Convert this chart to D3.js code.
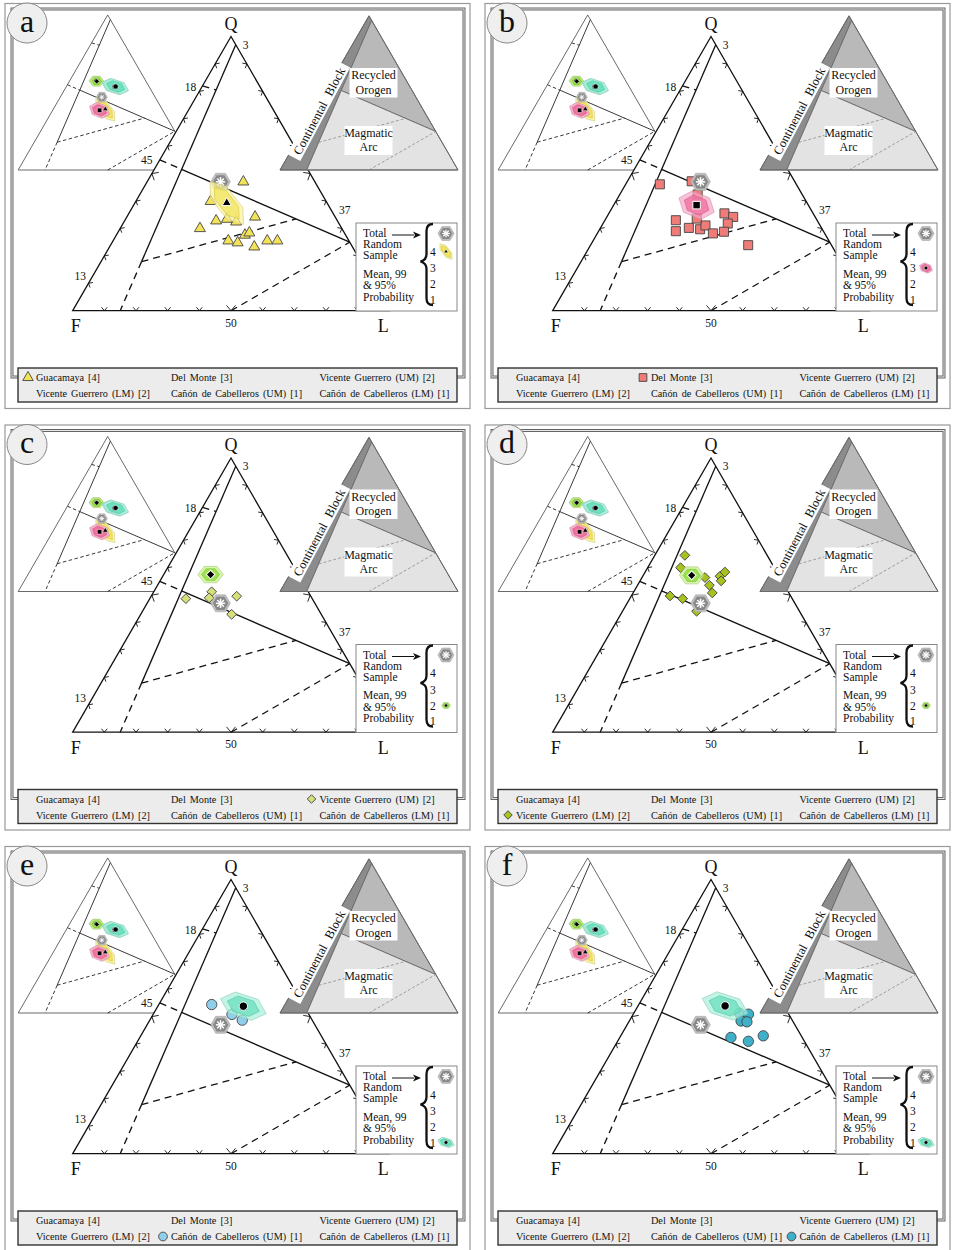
<!DOCTYPE html>
<html><head><meta charset="utf-8">
<script src="https://cdn.jsdelivr.net/npm/d3@7"></script>
<style>
body{margin:0;background:#fff}
svg{display:block}
text{font-family:"Liberation Serif",Tinos,"Times New Roman",serif;fill:#111}
</style>
</head><body>
<script>
// ---------------- DATA ----------------
const panelLetters = ["a","b","c","d","e","f"];
const groupNames = ["Guacamaya [4]","Del Monte [3]","Vicente Guerrero (UM) [2]","Vicente Guerrero (LM) [2]","Cañón de Cabelleros (UM) [1]","Cañón de Cabelleros (LM) [1]"];
const groupCounts = [4,3,2,2,1,1];
const groupSymbols = ["triangle","square","diamond","diamond","circle","circle"];
const pointFill = ["#f3e35a","#f07c78","#d6e07a","#a9c21e","#90cfea","#3fb0c8"];
const region99Fill = ["#faf39a","#f6a8c8","#c6f08e","#c6f08e","#a8f0da","#a8f0da"];
const region95Fill = ["#f1e35a","#ef6a9a","#86dc2e","#86dc2e","#66dfbd","#66dfbd"];

// point compositions as [Q, L] in percent (F = 100 - Q - L)
const guacamaya = [[47.0,30.4],[39.9,23.6],[32.8,28.9],[30.0,25.2],[34.2,40.5],[25.5,36.4],[24.8,39.7],[27.6,40.6],[28.4,41.6],[23.3,45.7],[25.5,48.7],[25.5,51.9],[32.4,35.4],[33.4,32.0]];
const delMonte = [[46.1,10.8],[47.2,20.3],[42.4,24.6],[33.0,22.4],[29.0,24.4],[30.2,27.9],[29.7,31.7],[31.1,32.7],[28.2,36.5],[35.5,36.5],[34.2,39.9],[31.8,39.4],[28.8,39.7],[23.9,49.8],[33.6,28.7]];
const vicenteUM = [[48.7,11.4],[51.2,18.3],[49.0,18.6],[49.6,27.0],[43.0,28.7]];
const vicenteLM = [[64.5,9.5],[60.0,10.4],[56.4,19.9],[53.6,22.7],[50.8,25.0],[56.9,24.4],[58.4,25.2],[55.2,25.6],[49.7,12.2],[48.7,16.7],[44.1,23.4]];
const cabellerosUM = [[54.4,16.7],[50.8,24.9],[48.7,29.2]];
const cabellerosLM = [[51.3,33.3],[50.9,36.4],[48.4,35.3],[48.1,37.3],[42.4,35.1],[41.0,41.3],[43.0,45.0]];
const groupPoints = [guacamaya, delMonte, vicenteUM, vicenteLM, cabellerosUM, cabellerosLM];

const groupMeans = [[39.3,29.0],[38.5,26.2],[57.5,14.8],[57.2,15.3],[53.8,27.0],[53.9,27.5]];
// confidence regions: [half-length, half-width (percent units), tilt deg]
const regions99 = [[8.6,3.6,52],[6.0,4.2,22],[4.0,3.0,0],[3.9,3.1,0],[7.6,4.0,18],[7.6,4.0,18]];
const regions95 = [[6.4,2.6,52],[4.2,3.0,22],[2.8,2.1,0],[2.7,2.2,0],[5.3,2.9,18],[5.3,2.9,18]];
const totalMean = [47.0,23.2];
const totalRegion = [3.1,2.4];

const tickLabels = ["3","18","45","13","37","50"];
const tickLabelAt = [[97,3],[82,0],[55,0],[13,0],[37,63],[0,50]];
const tickLabelShift = [[10,0],[-12,1],[-13,0],[-13,1],[14,1],[0,12]];
const vertexLabels = ["Q","F","L"];

// field boundaries [Q,L] -> [Q,L], dashed flag
const fieldLines = [
  [[97,3],[17.9,12.8],false],
  [[17.9,12.8],[0,15],true],
  [[55,0],[51.55,8.62],true],
  [[51.55,8.62],[25,75],false],
  [[17.9,12.8],[33.5,53.8],true],
  [[0,50],[25,75],true],
  [[82,0],[80.5,5.0],true]
];
const provenanceNames = ["Continental Block","Recycled Orogen","Magmatic Arc"];
const provenancePolys = [
  [[100,0],[0,0],[0,15],[97,3]],
  [[97,3],[51.55,8.62],[25,75]],
  [[51.55,8.62],[0,15],[0,100],[25,75]]
];
const provenanceFill = ["#8c8c8c","#b9b9b9","#e3e3e3"];
const boxText = ["Total","Random","Sample","Mean, 99","& 95%","Probability"];
const boxNumbers = ["4","3","2","1"];

// ---------------- DRAW ----------------
const W=954,H=1250;
const svg=d3.select("body").append("svg").attr("width",W).attr("height",H)
  .attr("font-family","'Liberation Serif', Tinos, 'Times New Roman', serif");
const panelOrigins=[[0,0],[480,0],[0,421.5],[480,421.5],[0,843],[480,843]];

function ternary(ox,oy,side){
  const sx=d3.scaleLinear().domain([0,100]).range([ox,ox+side]);
  const sy=d3.scaleLinear().domain([0,100]).range([oy,oy-side*Math.sqrt(3)/2]);
  const f=(Q,L)=>[sx(L+Q/2),sy(Q)];
  f.k=side/100;
  return f;
}
const symType={triangle:d3.symbolTriangle,square:d3.symbolSquare,diamond:d3.symbolSquare,circle:d3.symbolCircle};
function marker(g,type,x,y,size,fill,stroke,sw){
  g.append("path").attr("d",d3.symbol(symType[type],size)())
   .attr("transform",`translate(${x},${y})`+(type==="diamond"?" rotate(45)":""))
   .attr("fill",fill).attr("stroke",stroke).attr("stroke-width",sw);
}
function hexPts(cx,cy,a,b,ang,k){
  const r=ang*Math.PI/180,c=Math.cos(r),s=Math.sin(r);
  return d3.range(6).map(i=>{const t=i*Math.PI/3;const u=a*k*Math.cos(t),v=b*k*Math.sin(t);return [cx+u*c-v*s,cy+u*s+v*c];});
}
const poly=d3.line();
function polygon(g,pts,fill,stroke,sw,op){
  return g.append("path").attr("d",poly(pts)+"Z").attr("fill",fill).attr("stroke",stroke||"none").attr("stroke-width",sw||0).attr("fill-opacity",op==null?1:op);
}
function drawTotal(g,cx,cy,k){
  polygon(g,hexPts(cx,cy,totalRegion[0],totalRegion[0],0,k),"#bdbdbd","#a8a8a8",0.6);
  polygon(g,hexPts(cx,cy,totalRegion[1],totalRegion[1],0,k),"#878787","none",0);
  const r=totalRegion[1]*k*0.62, sw=Math.max(0.7,1.5*k/3.166);
  [0,45,90,135].forEach(d=>{
    const a=d*Math.PI/180;
    g.append("line").attr("x1",cx-r*Math.cos(a)).attr("y1",cy-r*Math.sin(a))
     .attr("x2",cx+r*Math.cos(a)).attr("y2",cy+r*Math.sin(a))
     .attr("stroke","#fff").attr("stroke-width",sw);
  });
}
function drawGroupRegion(g,gi,cx,cy,k,op){
  const r9=regions99[gi],r5=regions95[gi];
  polygon(g,hexPts(cx,cy,r9[0],r9[1],r9[2],k),region99Fill[gi],d3.color(region99Fill[gi]).darker(0.5),0.6,op);
  polygon(g,hexPts(cx,cy,r5[0],r5[1],r5[2],k),region95Fill[gi],d3.color(region95Fill[gi]).darker(0.4),0.6,op);
}
const meanSize={triangle:36,square:56,diamond:38,circle:56};
function drawMean(g,gi,x,y,scale){
  marker(g,groupSymbols[gi],x,y,meanSize[groupSymbols[gi]]*scale*scale,"#000","#fff",scale>0.7?1:0.5);
}
const pointSize={triangle:52,square:82,diamond:48,circle:84};

function drawPanel(g,pi){
  // frames
  g.append("rect").attr("x",5).attr("y",3.5).attr("width",465).attr("height",405).attr("fill","none").attr("stroke","#999").attr("stroke-width",1.2);
  g.append("rect").attr("x",12).attr("y",9).attr("width",452).attr("height",368).attr("fill","none").attr("stroke","#666").attr("stroke-width",3);
  g.append("rect").attr("x",12).attr("y",9).attr("width",452).attr("height",368).attr("fill","none").attr("stroke","#e6e6e6").attr("stroke-width",1);

  // inset triangle
  const ti=ternary(18.2,170,179);
  polygon(g,[ti(100,0),ti(0,0),ti(0,100)],"#fff","#444",0.8);
  fieldLines.forEach(l=>{
    const p1=ti(l[0][0],l[0][1]),p2=ti(l[1][0],l[1][1]);
    g.append("line").attr("x1",p1[0]).attr("y1",p1[1]).attr("x2",p2[0]).attr("y2",p2[1])
     .attr("stroke","#222").attr("stroke-width",0.9).attr("stroke-dasharray",l[2]?"3.5,2.5":null);
  });
  [0,1].forEach(gi=>{const m=ti(...groupMeans[gi]);drawGroupRegion(g,gi,m[0],m[1],ti.k,0.9);});
  {const m=ti(...totalMean);drawTotal(g,m[0],m[1],ti.k);}
  [2,3,4,5].forEach(gi=>{const m=ti(...groupMeans[gi]);drawGroupRegion(g,gi,m[0],m[1],ti.k,0.9);});
  groupMeans.forEach((mm,gi)=>{const m=ti(...mm);drawMean(g,gi,m[0],m[1],0.6);});

  // main triangle
  const tm=ternary(72.7,310.7,316.6);
  polygon(g,[tm(100,0),tm(0,0),tm(0,100)],"#fff","#111",1.3);
  fieldLines.forEach(l=>{
    const p1=tm(l[0][0],l[0][1]),p2=tm(l[1][0],l[1][1]);
    g.append("line").attr("x1",p1[0]).attr("y1",p1[1]).attr("x2",p2[0]).attr("y2",p2[1])
     .attr("stroke","#111").attr("stroke-width",1.3).attr("stroke-dasharray",l[2]?"7,5":null);
  });
  // edge ticks (every 10 %)
  const edges=[
    {f:v=>tm(v,0),t:[0.5,-0.866],n:[0.866,0.5]},
    {f:v=>tm(0,v),t:[1,0],n:[0,-1]},
    {f:v=>tm(v,100-v),t:[0.5,0.866],n:[-0.866,0.5]}
  ];
  edges.forEach(e=>{
    d3.range(10,100,10).forEach(v=>{
      const p=e.f(v),len=v===50?7:4.5,ca=Math.cos(0.7),sa=Math.sin(0.7);
      const a1=[p[0]+len*(e.n[0]*ca+e.t[0]*sa),p[1]+len*(e.n[1]*ca+e.t[1]*sa)];
      const a2=[p[0]+len*(e.n[0]*ca-e.t[0]*sa),p[1]+len*(e.n[1]*ca-e.t[1]*sa)];
      g.append("path").attr("d",d3.line()([a1,p,a2])).attr("fill","none").attr("stroke","#111").attr("stroke-width",0.9);
    });
  });
  tickLabels.forEach((t,i)=>{
    const p=tm(...tickLabelAt[i]);
    g.append("text").attr("x",p[0]+tickLabelShift[i][0]).attr("y",p[1]+tickLabelShift[i][1]).attr("dy","0.35em")
     .attr("text-anchor","middle").attr("font-size",11.5).text(t);
  });
  const vPos=[tm(100,0),tm(0,0),tm(0,100)],vOff=[[0,-13],[3,15],[-6,15]];
  vertexLabels.forEach((t,i)=>{
    g.append("text").attr("x",vPos[i][0]+vOff[i][0]).attr("y",vPos[i][1]+vOff[i][1]).attr("dy","0.35em")
     .attr("text-anchor","middle").attr("font-size",18).text(t);
  });

  // provenance triangle
  const tp=ternary(280,170,178);
  provenancePolys.forEach((pp,i)=>polygon(g,pp.map(q=>tp(...q)),provenanceFill[i],"#6a6a6a",0.9));
  [fieldLines[4],fieldLines[5]].forEach(l=>{
    const p1=tp(l[0][0],l[0][1]),p2=tp(l[1][0],l[1][1]);
    g.append("line").attr("x1",p1[0]).attr("y1",p1[1]).attr("x2",p2[0]).attr("y2",p2[1])
     .attr("stroke","#8a8a8a").attr("stroke-width",0.8).attr("stroke-dasharray","3,2");
  });
  polygon(g,[tp(100,0),tp(0,0),tp(0,100)],"none","#6a6a6a",1);
  const lab=(cx,lines,ys,bw)=>{
    g.append("rect").attr("x",cx-bw/2).attr("y",ys[0]-11).attr("width",bw).attr("height",ys[1]-ys[0]+15).attr("fill","#fff");
    lines.forEach((t,i)=>g.append("text").attr("x",cx).attr("y",ys[i]).attr("text-anchor","middle").attr("font-size",12).text(t));
  };
  lab(373.5,provenanceNames[1].split(" "),[79,93.5],48);
  lab(368.5,provenanceNames[2].split(" "),[137,151],48);
  {
    const cg=g.append("g").attr("transform","translate(319,111) rotate(-62)");
    cg.append("rect").attr("x",-53).attr("y",-8).attr("width",106).attr("height",15).attr("fill","#fff");
    cg.append("text").attr("x",0).attr("y",4.5).attr("text-anchor","middle").attr("font-size",12.5).attr("word-spacing",5).text(provenanceNames[0]);
  }

  // data
  const gi=pi;
  groupPoints[gi].forEach(p=>{const q=tm(p[0],p[1]);marker(g,groupSymbols[gi],q[0],q[1],pointSize[groupSymbols[gi]],pointFill[gi],"#444",0.9);});
  {const m=tm(...totalMean);drawTotal(g,m[0],m[1],tm.k);}
  {const m=tm(...groupMeans[gi]);drawGroupRegion(g,gi,m[0],m[1],tm.k,0.72);drawMean(g,gi,m[0],m[1],1);}

  // right legend box
  g.append("rect").attr("x",356).attr("y",223).attr("width",101).attr("height",88).attr("fill","#fff").attr("stroke","#888").attr("stroke-width",1);
  const bY=[237,248,259,277.5,289,300.5];
  boxText.forEach((t,i)=>g.append("text").attr("x",363).attr("y",bY[i]).attr("font-size",11.5).text(t));
  g.append("line").attr("x1",392).attr("y1",235).attr("x2",414).attr("y2",235).attr("stroke","#111").attr("stroke-width",1);
  g.append("path").attr("d","M413,231.5 L421,235 L413,238.5 L415,235 Z").attr("fill","#111");
  g.append("path").attr("d","M433,224 Q426.5,224 426.5,231 L426.5,254 Q426.5,260 420.5,261.5 Q426.5,263 426.5,269 L426.5,298 Q426.5,305 433,305")
   .attr("fill","none").attr("stroke","#111").attr("stroke-width",2.3);
  const nY=[255.5,272,288,303.5];
  boxNumbers.forEach((t,i)=>g.append("text").attr("x",430).attr("y",nY[i]).attr("font-size",11.5).text(t));
  drawTotal(g,446,233.5,2.6);
  const si=boxNumbers.indexOf(String(groupCounts[gi]));
  drawGroupRegion(g,gi,446,nY[si]-4,1.15,0.95);
  drawMean(g,gi,446,nY[si]-4,0.45);

  // bottom legend
  g.append("rect").attr("x",18).attr("y",368).attr("width",439).attr("height",34).attr("fill","#ececec").attr("stroke","#333").attr("stroke-width",1.4);
  const colX=[36,171,319.5],rowY=[377.5,393.5];
  groupNames.forEach((t,i)=>{
    const cx=colX[i%3],cy=rowY[Math.floor(i/3)];
    g.append("text").attr("x",cx).attr("y",cy+3.5).attr("font-size",10.2).attr("word-spacing",1.5).text(t);
    if(i===gi) marker(g,groupSymbols[i],cx-8,cy,groupSymbols[i]==="triangle"?48:groupSymbols[i]==="diamond"?36:60,pointFill[i],"#444",0.9);
  });

  // panel letter
  g.append("circle").attr("cx",27).attr("cy",23).attr("r",20).attr("fill","#efefef").attr("stroke","#888").attr("stroke-width",1);
  g.append("text").attr("x",27).attr("y",31.5).attr("text-anchor","middle").attr("font-size",32).text(panelLetters[pi]);
}
panelOrigins.forEach((o,pi)=>drawPanel(svg.append("g").attr("transform",`translate(${o[0]},${o[1]})`),pi));
</script>
</body></html>
